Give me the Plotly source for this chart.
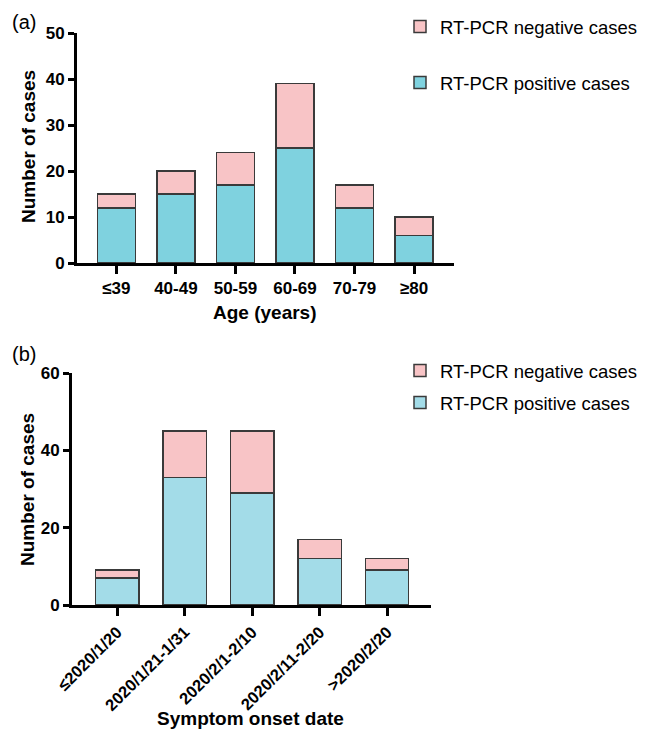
import plotly.graph_objects as go

age_groups = ["≤39", "40-49", "50-59", "60-69", "70-79", "≥80"]
age_positive = [12, 15, 17, 25, 12, 6]
age_negative = [3, 5, 7, 14, 5, 4]

onset_groups = ["≤2020/1/20", "2020/1/21-1/31", "2020/2/1-2/10", "2020/2/11-2/20", ">2020/2/20"]
onset_positive = [7, 33, 29, 12, 9]
onset_negative = [2, 12, 16, 5, 3]

W, H = 646, 740
OFF = 8  # page body margin
PINK = "#F8C4C6"
BLUE_A = "#7FD2DF"
BLUE_B = "#A3DCE8"
EDGE = "#3a3a3a"
FONT = "Liberation Sans, Arial, sans-serif"

def px(x):
    return (x - OFF) / W

def py(y):
    return 1 - (y - OFF) / H

fig = go.Figure()

fig.add_trace(go.Bar(x=age_groups, y=age_positive, name="RT-PCR positive cases",
                     marker=dict(color=BLUE_A, line=dict(color=EDGE, width=1.5)),
                     width=0.64, xaxis="x", yaxis="y", legend="legend2"))
fig.add_trace(go.Bar(x=age_groups, y=age_negative, name="RT-PCR negative cases",
                     marker=dict(color=PINK, line=dict(color=EDGE, width=1.5)),
                     width=0.64, xaxis="x", yaxis="y", legend="legend"))
fig.add_trace(go.Bar(x=onset_groups, y=onset_positive, name="RT-PCR positive cases",
                     marker=dict(color=BLUE_B, line=dict(color=EDGE, width=1.5)),
                     width=0.64, xaxis="x2", yaxis="y2", legend="legend4"))
fig.add_trace(go.Bar(x=onset_groups, y=onset_negative, name="RT-PCR negative cases",
                     marker=dict(color=PINK, line=dict(color=EDGE, width=1.5)),
                     width=0.64, xaxis="x2", yaxis="y2", legend="legend3"))

axis_common = dict(showline=True, linecolor="black", linewidth=3, ticks="outside",
                   tickcolor="black", tickwidth=3, showgrid=False, zeroline=False,
                   automargin=False)
tf = lambda s: dict(family=FONT, size=s, color="black", weight="bold")

fig.update_layout(
    width=W, height=H, barmode="stack", plot_bgcolor="white", paper_bgcolor="white",
    margin=dict(l=0, r=0, t=0, b=0), showlegend=True,
    xaxis=dict(domain=[px(77), px(454)], range=[-0.66, 5.67], anchor="y", ticklen=8,
               tickfont=tf(17), **axis_common),
    yaxis=dict(domain=[py(263), py(33)], range=[0, 50], anchor="x", ticklen=6,
               tickvals=[0, 10, 20, 30, 40, 50], tickfont=tf(17), **axis_common),
    xaxis2=dict(domain=[px(72), px(431)], range=[-0.67, 4.65], anchor="y2", ticklen=8,
                tickangle=-45, tickfont=tf(16.5), **axis_common),
    yaxis2=dict(domain=[py(605), py(373)], range=[0, 60], anchor="x2", ticklen=6,
                tickvals=[0, 20, 40, 60], tickfont=tf(17), **axis_common),
)

leg_font = dict(family=FONT, size=18.5, color="black")
for name, y in [("legend", 27), ("legend2", 83), ("legend3", 371), ("legend4", 403)]:
    fig.update_layout({name: dict(x=px(400), y=py(y), xanchor="left", yanchor="middle",
                                  font=leg_font, bgcolor="rgba(0,0,0,0)", itemwidth=30)})

ann = [
    dict(text="(a)", x=px(10), y=py(22), xanchor="left", yanchor="middle", font=dict(size=20)),
    dict(text="(b)", x=px(10), y=py(354), xanchor="left", yanchor="middle", font=dict(size=20)),
    dict(text="<b>Number of cases</b>", x=px(29), y=py(147), textangle=-90,
         xanchor="center", yanchor="middle", font=dict(size=19)),
    dict(text="<b>Number of cases</b>", x=px(27), y=py(490), textangle=-90,
         xanchor="center", yanchor="middle", font=dict(size=19)),
    dict(text="<b>Age (years)</b>", x=px(265), y=py(312), xanchor="center", yanchor="middle",
         font=dict(size=19)),
    dict(text="<b>Symptom onset date</b>", x=px(250), y=py(718), xanchor="center", yanchor="middle",
         font=dict(size=19)),
]
for a in ann:
    a.update(xref="paper", yref="paper", showarrow=False)
    a["font"].update(family=FONT, color="black")
fig.update_layout(annotations=ann)

fig.write_html("out.html")
